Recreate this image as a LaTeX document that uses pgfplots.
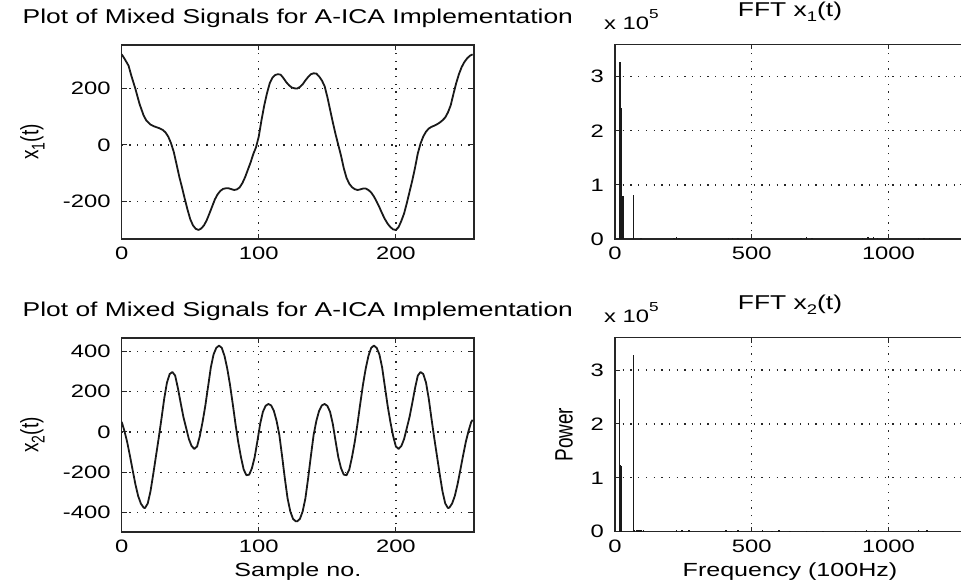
\documentclass[border=0pt]{standalone}
\usepackage{fontspec}
\setmainfont{Liberation Sans}[FakeStretch=1.32]
\newfontfamily\plainsans{Liberation Sans}
\usepackage{graphicx}
\usepackage{pgfplots}
\pgfplotsset{compat=1.18}

\newcommand\titlef{\fontsize{20}{24}\selectfont}
\newcommand\ticksf{\fontsize{18}{22}\selectfont}
\newcommand\labelf{\fontsize{19}{23}\selectfont}
\newcommand\sub[1]{\raisebox{-0.25em}{\fontsize{14}{14}\selectfont #1}}

\pgfplotsset{
  mat/.style={
    scale only axis,
    axis line style={line width=1.3pt, black!85},
    tick style={black!85, line width=1pt},
    tick align=inside,
    major tick length=5pt,
    grid=major,
    major grid style={black!85, line width=1.3pt, dash pattern=on 1.3pt off 6.4pt},
    xticklabel style={font=\ticksf, inner sep=0pt, anchor=north, yshift=-8pt},
    yticklabel style={font=\ticksf, inner sep=0pt, anchor=east, xshift=-11pt},
    title style={font=\titlef, inner sep=0pt, anchor=base, at={(0.5,1)}, yshift=15.5pt},
    xlabel style={font=\labelf, inner sep=0pt, anchor=base, at={(axis description cs:0.5,0)}, yshift=-45pt},
    /pgf/number format/assume math mode=true,
    /pgf/number format/1000 sep={},
  },
  sig/.style={black!90, line width=1.8pt, no marks, line join=round},
  spec/.style={
    mat, xmin=0, xmax=1280, xtick={0,500,1000},
    ymin=0, ymax=360000, ytick={0,100000,200000,300000},
    scaled y ticks=base 10:-5,
    ytick scale label code/.code={x 10\raisebox{11pt}{\fontsize{13}{13}\selectfont 5}},
    every y tick scale label/.style={at={(rel axis cs:0,1)}, anchor=base west, inner sep=0pt, yshift=15pt, font=\ticksf},
    title style={yshift=6.5pt},
  },
  comb/.style={ycomb, black!90, line width=1.6pt, no marks},
}

\begin{document}
\begin{tikzpicture}
\useasboundingbox (0pt,0pt) rectangle (961pt,588pt);
\clip (0pt,0pt) rectangle (961pt,588pt);

% mixed signal x1(t)
\begin{axis}[mat, at={(121.7pt,349pt)}, anchor=south west,
  width=352.3pt, height=194pt,
  xmin=0, xmax=257, xtick={0,100,200},
  ymin=-332, ymax=353, ytick={-200,0,200},
  title={Plot of Mixed Signals for A-ICA Implementation},
  ylabel={\scalebox{1}[1.32]{\plainsans\labelf x\sub{1}(t)}},
  ylabel style={at={(axis description cs:-0.218,0.5)}, anchor=south, inner sep=0pt},
]
\addplot[sig] coordinates {
(0,320)(2,305)(5,280)(7,245)(10,198)(13,145)(16,104)(18,86)(21,72)(24,65)(27,60)(30,53)
(32,44)(34,29)(36,6)(38,-25)(40,-68)(42,-112)(44,-150)(46,-190)(48,-228)(50,-262)(52,-284)
(54,-296)(56,-300)(58,-295)(60,-284)(62,-266)(64,-242)(66,-217)(68,-192)(70,-174)(72,-162)
(74,-155)(76,-153)(78,-153)(80,-156)(82,-159)(84,-157)(86,-150)(88,-135)(90,-114)(92,-88)
(94,-62)(96,-32)(98,-8)(100,30)(102,88)(104,140)(106,183)(108,218)(110,238)(112,247)
(114,250)(116,248)(118,236)(120,222)(122,211)(124,203)(126,200)(128,199)(130,205)(132,214)
(134,228)(136,240)(138,250)(140,253)(142,252)(144,242)(146,228)(148,208)(150,170)(152,125)
(154,80)(156,38)(158,0)(160,-38)(162,-82)(164,-116)(166,-137)(168,-149)(170,-156)(172,-159)
(174,-157)(176,-154)(178,-154)(180,-159)(182,-168)(184,-182)(186,-200)(188,-220)(190,-242)
(192,-262)(194,-278)(196,-290)(198,-298)(200,-300)(202,-290)(204,-268)(206,-242)(208,-205)
(210,-165)(212,-125)(214,-80)(216,-30)(218,5)(220,30)(222,47)(224,58)(226,64)(228,68)
(230,73)(232,79)(234,87)(236,97)(238,115)(240,140)(242,180)(244,218)(246,250)(248,275)
(250,293)(252,306)(254,315)(256,320)
};
\end{axis}

% spectrum of x1(t)
\begin{axis}[spec, at={(615pt,349pt)}, anchor=south west,
  width=350pt, height=194.7pt,
  title={FFT x\sub{1}(t)},
]
\addplot[comb] coordinates {
(18,328000)(21,242000)(23,238000)(30,80000)(67,81000)
};
\addplot[comb] coordinates {
(95,2500)(215,2500)(225,3000)(235,2500)(415,2500)(430,2000)(450,2500)
(680,2500)(700,3000)(720,2500)(905,2500)(925,3000)(945,3000)(960,2500)
(1110,2500)(1130,2000)(1150,2500)
};
\end{axis}

% mixed signal x2(t)
\begin{axis}[mat, at={(121.7pt,56pt)}, anchor=south west,
  width=352.3pt, height=194pt,
  xmin=0, xmax=257, xtick={0,100,200},
  ymin=-497, ymax=467, ytick={-400,-200,0,200,400},
  title={Plot of Mixed Signals for A-ICA Implementation},
  xlabel={Sample no.},
  ylabel={\scalebox{1}[1.32]{\plainsans\labelf x\sub{2}(t)}},
  ylabel style={at={(axis description cs:-0.218,0.5)}, anchor=south, inner sep=0pt},
]
\addplot[sig] coordinates {
(0,50)(2,5)(4,-50)(6,-118)(8,-190)(10,-260)(12,-318)(14,-356)(16,-376)(17,-378)(19,-355)
(21,-295)(23,-210)(25,-120)(27,-30)(29,65)(31,165)(33,245)(35,288)(37,298)(39,280)(41,218)
(43,145)(45,75)(47,20)(49,-35)(51,-70)(53,-84)(55,-72)(57,-20)(59,50)(61,130)(63,225)
(65,320)(67,385)(69,418)(71,429)(73,418)(75,378)(77,315)(79,235)(81,140)(83,40)(85,-50)
(87,-125)(89,-187)(91,-215)(93,-212)(95,-180)(97,-125)(99,-45)(101,40)(103,100)(105,130)
(107,139)(109,132)(111,105)(113,55)(115,-15)(117,-120)(119,-230)(121,-330)(123,-395)
(125,-432)(127,-444)(128,-444)(130,-432)(132,-395)(134,-330)(136,-230)(138,-120)(140,-15)
(142,55)(144,105)(146,132)(148,139)(150,130)(152,100)(154,40)(156,-45)(158,-125)(160,-180)
(162,-212)(164,-215)(166,-187)(168,-125)(170,-50)(172,40)(174,140)(176,235)(178,315)
(180,378)(182,418)(184,429)(186,418)(188,385)(190,320)(192,225)(194,130)(196,50)(198,-20)
(200,-72)(202,-84)(204,-70)(206,-35)(208,20)(210,75)(212,145)(214,218)(216,280)(218,298)
(220,288)(222,245)(224,165)(226,65)(228,-30)(230,-120)(232,-210)(234,-295)(236,-355)
(238,-378)(239,-376)(241,-356)(243,-318)(245,-260)(247,-190)(249,-118)(251,-50)(253,5)
(255,50)(256,60)
};
\end{axis}

% spectrum of x2(t)
\begin{axis}[spec, at={(615pt,56.3pt)}, anchor=south west,
  width=350pt, height=194pt,
  title={FFT x\sub{2}(t)},
  xlabel={Frequency (100Hz)},
  ylabel={\scalebox{1}[1.32]{\plainsans\labelf Power}},
  ylabel style={at={(axis description cs:-0.12,0.5)}, anchor=south, inner sep=0pt},
]
\addplot[comb] coordinates {
(17,246000)(20,124000)(22,122000)(67,328000)
};
\addplot[comb] coordinates {
(72,3500)(80,3000)(88,3000)(96,3000)(104,2500)
(225,2500)(245,3000)(270,2500)(405,2500)(425,2000)(450,2500)
(540,2500)(575,2000)(600,2500)(640,2000)(700,2000)(760,2000)
(880,2000)(920,2500)(950,2000)(1110,2500)(1140,2500)
};
\end{axis}
\end{tikzpicture}
\end{document}
